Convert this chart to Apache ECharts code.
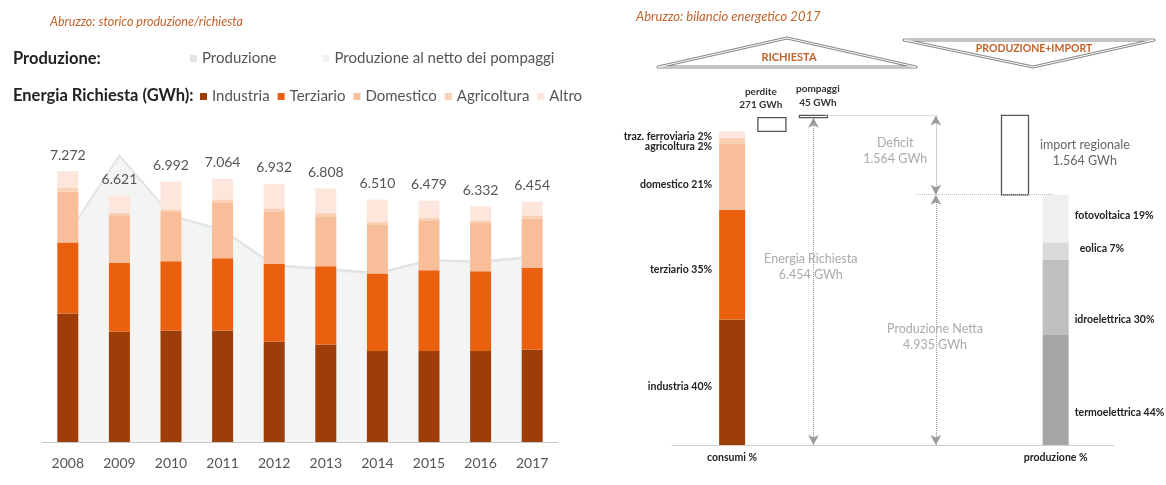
<!DOCTYPE html>
<html lang="it">
<head>
<meta charset="UTF-8">
<title>Abruzzo: produzione e richiesta di energia</title>
<script src="https://cdn.jsdelivr.net/npm/echarts@6.0.0/dist/echarts.min.js"></script>
<style>
  html, body { margin: 0; padding: 0; background: #fff; }
  #chart { width: 1166px; height: 485px; }
</style>
</head>
<body>
<div id="chart"></div>
<script>
// ---- storico produzione/richiesta (GWh) ----
const anni = ['2008', '2009', '2010', '2011', '2012', '2013', '2014', '2015', '2016', '2017'];
const industria = [3450, 2957, 2995, 2995, 2700, 2619, 2440, 2440, 2440, 2485];
const terziario = [1903, 1850, 1858, 1938, 2080, 2099, 2083, 2172, 2145, 2188];
const domestico = [1375, 1279, 1322, 1501, 1413, 1340, 1303, 1340, 1295, 1324];
const agricoltura = [100, 72, 72, 80, 80, 88, 80, 72, 72, 90];
const altro = [444, 463, 745, 550, 659, 662, 604, 455, 380, 367];
const totali = [7272, 6621, 6992, 7064, 6932, 6808, 6510, 6479, 6332, 6454];
const produzione = [5580, 7700, 6090, 5700, 4750, 4655, 4535, 4885, 4855, 4980];
const produzioneNetto = [5540, 7660, 6050, 5665, 4715, 4620, 4500, 4850, 4815, 4935];

// ---- bilancio energetico 2017 ----
const consumiVoci = ['industria', 'terziario', 'domestico', 'agricoltura', 'traz. ferroviaria'];
const consumiPct = [40, 35, 21, 2, 2];
const consumiGWh = [2473, 2164, 1298, 124, 124];
const fontiVoci = ['termoelettrica', 'idroelettrica', 'eolica', 'fotovoltaica'];
const fontiPct = [44, 30, 7, 19];
const fontiGWh = [2171, 1481, 345, 938];
const perdite = 271;
const pompaggi = 45;
const importRegionale = 1564;
const energiaRichiesta = 6454;
const produzioneNetta = 4935;

// colori
const coloriRichiesta = ['#9e3d07', '#ea600f', '#f8bd99', '#fbd1b6', '#fde6db'];
const coloriConsumi = ['#9e3d07', '#ea600f', '#f8bd99', '#fbd1b6', '#fde6db'];
const coloriFonti = ['#a6a6a6', '#bfbfbf', '#d9d9d9', '#efefef'];
const arancio = '#c0622a';

// posizioni orizzontali (unità asse 0-100) del bilancio
const xPos = {
  consumi: 13.6, perdite: 22.6, pompaggi: 32, deficit: 59.7,
  import: 77.6, produzione: 86.8
};
// spostamento verticale delle etichette (px)
const dyConsumi = [4, 5, 8, 6, 2];
const dyFonti = [23, 22, -2, -3];

function fmt(v) {
  return String(v).replace(/\B(?=(\d{3})+(?!\d))/g, '.');
}

// rettangoli del bilancio costruiti dai dati
const rects = [];
let base = 0;
consumiGWh.forEach(function (v, i) {
  rects.push({ value: [xPos.consumi, base, base + v], fill: coloriConsumi[i],
    text: consumiVoci[i] + ' ' + consumiPct[i] + '%', side: 'left', dy: dyConsumi[i] });
  base += v;
});
rects.push({ value: [xPos.perdite, base, base + perdite], fill: '#fff', stroke: '#555', w: 28 });
rects.push({ value: [xPos.pompaggi, base + perdite, base + perdite + pompaggi], fill: '#fff', stroke: '#555', w: 28 });
base = 0;
fontiGWh.forEach(function (v, i) {
  rects.push({ value: [xPos.produzione, base, base + v], fill: coloriFonti[i],
    text: fontiVoci[i] + ' ' + fontiPct[i] + '%', side: 'right', dy: dyFonti[i], dx: i === 2 ? 5 : 0 });
  base += v;
});
rects.push({ value: [xPos.import, base, base + importRegionale], fill: '#fff', stroke: '#555', w: 27 });

function renderRect(params, api) {
  const d = rects[params.dataIndex];
  const p0 = api.coord([api.value(0), api.value(1)]);
  const p1 = api.coord([api.value(0), api.value(2)]);
  const w = d.w || 26;
  const children = [{
    type: 'rect',
    shape: { x: p0[0] - w / 2, y: p1[1], width: w, height: Math.max(p0[1] - p1[1], 1) },
    style: { fill: d.fill, stroke: d.stroke || null, lineWidth: d.stroke ? 1.3 : 0 }
  }];
  if (d.text) {
    children.push({
      type: 'text',
      x: d.side === 'left' ? p0[0] - w / 2 - 7 : p0[0] + w / 2 + 6 + (d.dx || 0),
      y: (p0[1] + p1[1]) / 2 + d.dy,
      style: {
        text: d.text, align: d.side === 'left' ? 'right' : 'left', verticalAlign: 'middle',
        font: 'bold 10.5px Lato', fill: '#222'
      }
    });
  }
  return { type: 'group', children: children };
}

const myChart = echarts.init(document.getElementById('chart'));

const barSeries = [industria, terziario, domestico, agricoltura, altro].map(function (arr, i) {
  const s = {
    name: ['Industria', 'Terziario', 'Domestico', 'Agricoltura', 'Altro'][i],
    type: 'bar',
    stack: 'richiesta',
    barWidth: 21,
    xAxisIndex: 0, yAxisIndex: 0,
    itemStyle: { color: coloriRichiesta[i] },
    data: arr
  };
  if (i === 4) {
    s.label = {
      show: true, position: 'top', distance: 9, color: '#555', fontSize: 14,
      formatter: function (p) { return fmt(totali[p.dataIndex]); }
    };
  }
  return s;
});

const option = {
  animation: false,
  textStyle: { fontFamily: 'Lato' },
  title: [
    { text: 'Abruzzo: storico produzione/richiesta', left: 50, top: 15, padding: 0,
      textStyle: { fontSize: 12.5, fontStyle: 'italic', fontWeight: 'normal', color: arancio } },
    { text: 'Produzione:', left: 13, top: 50, padding: 0,
      textStyle: { fontSize: 16.5, fontWeight: 'bold', color: '#222' } },
    { text: 'Energia Richiesta (GWh):', left: 13, top: 87, padding: 0,
      textStyle: { fontSize: 16.5, fontWeight: 'bold', color: '#222' } },
    { text: 'Abruzzo: bilancio energetico 2017', left: 636, top: 10, padding: 0,
      textStyle: { fontSize: 13, fontStyle: 'italic', fontWeight: 'normal', color: arancio } }
  ],
  legend: [
    { data: ['Produzione', 'Produzione al netto dei pompaggi'], left: 190, top: 51, padding: 0,
      icon: 'rect', itemWidth: 7, itemHeight: 7, itemGap: 46, selectedMode: false,
      textStyle: { fontSize: 15, color: '#555' } },
    { data: ['Industria', 'Terziario', 'Domestico', 'Agricoltura', 'Altro'], left: 200, top: 89, padding: 0,
      icon: 'rect', itemWidth: 7, itemHeight: 7, itemGap: 8, selectedMode: false,
      textStyle: { fontSize: 15, color: '#555' } }
  ],
  grid: [
    { left: 42, right: 608, top: 144, bottom: 43 },
    { left: 672, right: 52, top: 90, bottom: 40 }
  ],
  xAxis: [
    { type: 'category', gridIndex: 0, data: anni,
      axisLine: { lineStyle: { color: '#c8c8c8' } }, axisTick: { show: false },
      axisLabel: { color: '#555', fontSize: 14, margin: 14 } },
    { type: 'value', gridIndex: 1, min: 0, max: 100,
      splitLine: { show: false }, axisTick: { show: false },
      axisLine: { show: true, lineStyle: { color: '#cfcfcf' } },
      axisLabel: { customValues: [xPos.consumi, xPos.produzione], margin: 7,
        color: '#222', fontSize: 10.5, fontWeight: 'bold',
        formatter: function (v) { return v < 50 ? 'consumi %' : 'produzione %'; } } }
  ],
  yAxis: [
    { type: 'value', gridIndex: 0, min: 0, max: 8000, show: false },
    { type: 'value', gridIndex: 1, min: 0, max: 7000, show: false }
  ],
  series: [
    { name: 'Produzione', type: 'line', z: 1, symbol: 'none', data: produzione,
      color: '#e2e5e5', lineStyle: { color: '#dde1e1', width: 1.5 },
      areaStyle: { color: '#eef0f0', opacity: 1 } },
    { name: 'Produzione al netto dei pompaggi', type: 'line', z: 1, symbol: 'none', data: produzioneNetto,
      color: '#f0f2f2', lineStyle: { color: '#e4e7e7', width: 1 },
      areaStyle: { color: '#f3f4f4', opacity: 1 } }
  ].concat(barSeries).concat([
    {
      name: 'Bilancio 2017', type: 'custom', xAxisIndex: 1, yAxisIndex: 1,
      renderItem: renderRect,
      encode: { x: 0, y: [1, 2] },
      data: rects.map(function (r) { return r.value; }),
      markLine: {
        silent: true, symbol: ['arrow', 'arrow'], symbolSize: [8, 10],
        label: { show: false },
        itemStyle: { color: '#8c8c8c' },
        lineStyle: { type: 'dotted', color: '#9a9a9a', width: 1 },
        data: [
          [{ coord: [xPos.pompaggi, 0] }, { coord: [xPos.pompaggi, energiaRichiesta] }],
          [{ coord: [xPos.deficit, produzioneNetta] }, { coord: [xPos.deficit, produzioneNetta + importRegionale] }],
          [{ coord: [xPos.deficit, 0] }, { coord: [xPos.deficit, produzioneNetta] }],
          [{ coord: [34.7, energiaRichiesta + pompaggi], symbol: 'none', lineStyle: { color: '#bbb' } },
           { coord: [59.5, energiaRichiesta + pompaggi], symbol: 'none' }],
          [{ coord: [55.2, produzioneNetta], symbol: 'none', lineStyle: { color: '#bbb' } },
           { coord: [86.3, produzioneNetta], symbol: 'none' }]
        ]
      },
      markPoint: {
        silent: true, symbol: 'rect', symbolSize: 0,
        label: { show: true, position: 'inside', color: '#aaa', fontSize: 12.5, lineHeight: 16 },
        data: [
          { coord: [50.5, 5800], label: { formatter: 'Deficit\n' + fmt(importRegionale) + ' GWh' } },
          { coord: [93.4, 5750], label: { formatter: 'import regionale\n' + fmt(importRegionale) + ' GWh', color: '#666' } },
          { coord: [31.4, 3520], label: { formatter: 'Energia Richiesta\n' + fmt(energiaRichiesta) + ' GWh' } },
          { coord: [59.5, 2130], label: { formatter: 'Produzione Netta\n' + fmt(produzioneNetta) + ' GWh' } },
          { coord: [20.1, 6833], label: { formatter: 'perdite\n' + perdite + ' GWh', color: '#333', fontSize: 10, fontWeight: 'bold', lineHeight: 13 } },
          { coord: [33.0, 6882], label: { formatter: 'pompaggi\n' + pompaggi + ' GWh', color: '#333', fontSize: 10, fontWeight: 'bold', lineHeight: 14 } }
        ]
      }
    }
  ]),
  graphic: [
    { type: 'polygon', shape: { points: [[658, 67], [787, 38], [916, 67]] },
      style: { fill: 'none', stroke: '#8a8a8a', lineWidth: 3, lineJoin: 'round' } },
    { type: 'polygon', shape: { points: [[658, 67], [787, 38], [916, 67]] },
      style: { fill: 'none', stroke: '#fff', lineWidth: 1, lineJoin: 'round' } },
    { type: 'text', x: 789, y: 57, style: { text: 'RICHIESTA', align: 'center', verticalAlign: 'middle',
      font: 'bold 11px Lato', fill: arancio } },
    { type: 'polygon', shape: { points: [[904, 40], [1154, 40], [1033, 67]] },
      style: { fill: 'none', stroke: '#8a8a8a', lineWidth: 3, lineJoin: 'round' } },
    { type: 'polygon', shape: { points: [[904, 40], [1154, 40], [1033, 67]] },
      style: { fill: 'none', stroke: '#fff', lineWidth: 1, lineJoin: 'round' } },
    { type: 'text', x: 1034, y: 49, style: { text: 'PRODUZIONE+IMPORT', align: 'center', verticalAlign: 'middle',
      font: 'bold 10.5px Lato', fill: arancio } }
  ]
};

myChart.setOption(option);
</script>
</body>
</html>
